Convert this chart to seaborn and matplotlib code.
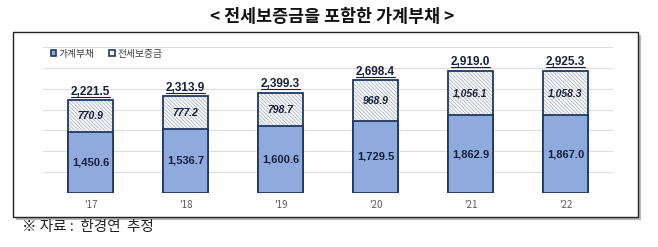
import pandas as pd
import matplotlib.pyplot as plt
import matplotlib.patches as mpatches
from matplotlib.lines import Line2D
import seaborn as sns

years = ["'17", "'18", "'19", "'20", "'21", "'22"]
household_debt = [1450.6, 1536.7, 1600.6, 1729.5, 1862.9, 1867.0]
jeonse_deposit = [770.9, 777.2, 798.7, 968.9, 1056.1, 1058.3]
total_debt = [2221.5, 2313.9, 2399.3, 2698.4, 2919.0, 2925.3]
legend_labels = ['가계부채', '전세보증금']

df = pd.DataFrame({'year': years, 'debt': household_debt,
                   'jeonse': jeonse_deposit, 'total': total_debt})

sns.set_style('white')
plt.rcParams['font.family'] = ['Noto Sans CJK KR', 'DejaVu Sans']
plt.rcParams['hatch.linewidth'] = 0.55

blue = '#8FAADC'
navy = '#1F3864'
hatch_col = '#9EA8B8'
txt_col = '#16203A'
num_font = 'Liberation Sans'

fig = plt.figure(figsize=(6.58, 2.47), dpi=100)
ax = fig.add_axes([43 / 658, 1 - 193 / 247, 570 / 658, 146 / 247])
ax.patch.set_alpha(0)

# outer frame with a soft shadow
fig.add_artist(mpatches.Rectangle((16 / 658, 1 - 220 / 247), 625 / 658, 185 / 247,
                                  transform=fig.transFigure, facecolor='#B8B8B8',
                                  edgecolor='none', zorder=-3))
fig.add_artist(mpatches.Rectangle((13 / 658, 1 - 217 / 247), 625 / 658, 185 / 247,
                                  transform=fig.transFigure, facecolor='white',
                                  edgecolor='#222222', linewidth=1, zorder=-2))

# total bar (hatched), its outline, then household debt on top
sns.barplot(data=df, x='year', y='total', color='white', width=0.48,
            errorbar=None, ax=ax)
for p in ax.containers[0]:
    p.set_hatch('\\' * 9)
    p.set_edgecolor(hatch_col)
    p.set_linewidth(0)
sns.barplot(data=df, x='year', y='total', color='white', width=0.48,
            errorbar=None, ax=ax)
for p in ax.containers[1]:
    p.set_facecolor('none')
    p.set_edgecolor(navy)
    p.set_linewidth(1.3)
sns.barplot(data=df, x='year', y='debt', color=blue, saturation=1, width=0.48,
            errorbar=None, ax=ax)
for p in ax.containers[2]:
    p.set_edgecolor(navy)
    p.set_linewidth(1.3)

total_texts = []
for i, row in df.iterrows():
    ax.text(i, row.debt / 2, f'{row.debt:,.1f}', ha='center', va='center',
            fontsize=8, fontweight='bold', color=txt_col, family=num_font)
    ax.text(i, row.debt + row.jeonse / 2, f'{row.jeonse:,.1f}', ha='center',
            va='center', fontsize=7.5, fontweight='bold', style='italic',
            color=txt_col, family=num_font)
    t = ax.annotate(f'{row.total:,.1f}', (i, row.total), xytext=(0, 2),
                    textcoords='offset points', ha='center', va='bottom',
                    fontsize=8.5, fontweight='bold', color=txt_col, family=num_font)
    total_texts.append(t)

ax.set_xlim(-0.5, 5.5)
ax.set_ylim(0, 3500)
ax.set_yticks(range(0, 3501, 500))
ax.set_yticklabels([])
ax.grid(axis='y', color='#DCDCDC', linewidth=0.8)
ax.set_axisbelow(True)
sns.despine(ax=ax, left=True, bottom=True)
ax.tick_params(length=0, labelsize=7, labelcolor='#595959', pad=5)
ax.set_xlabel('')
ax.set_ylabel('')

handles = [mpatches.Patch(facecolor=blue, edgecolor=navy, linewidth=1.2),
           mpatches.Patch(facecolor='white', edgecolor=navy, linewidth=1.2)]
leg = ax.legend(handles, legend_labels, loc='center left', bbox_to_anchor=(0.014, 0.955),
                ncol=2, frameon=False, fontsize=7, handlelength=0.55, handleheight=0.55,
                handletextpad=0.25, columnspacing=1.5, borderaxespad=0, borderpad=0)
leg.get_texts()[1].set_fontstyle('italic')
for t in leg.get_texts():
    t.set_color('#404040')

fig.text(0.505, 1 - 17 / 247, '< 전세보증금을 포함한 가계부채 >', ha='center', va='center',
         fontsize=12.5, fontweight='bold', color='#111111')
fig.text(22 / 658, 1 - 227 / 247, '※ 자료 :  한경연  추정', ha='left', va='center',
         fontsize=10.5, color='#222222')

# underline the totals
fig.canvas.draw()
inv = fig.transFigure.inverted()
for t in total_texts:
    bb = t.get_window_extent()
    x0, y0 = inv.transform((bb.x0, bb.y0 + 1))
    x1, _ = inv.transform((bb.x1, bb.y0 + 1))
    fig.add_artist(Line2D([x0, x1], [y0, y0], transform=fig.transFigure,
                          color=txt_col, linewidth=0.8))

fig.savefig('out.png', dpi=100)
